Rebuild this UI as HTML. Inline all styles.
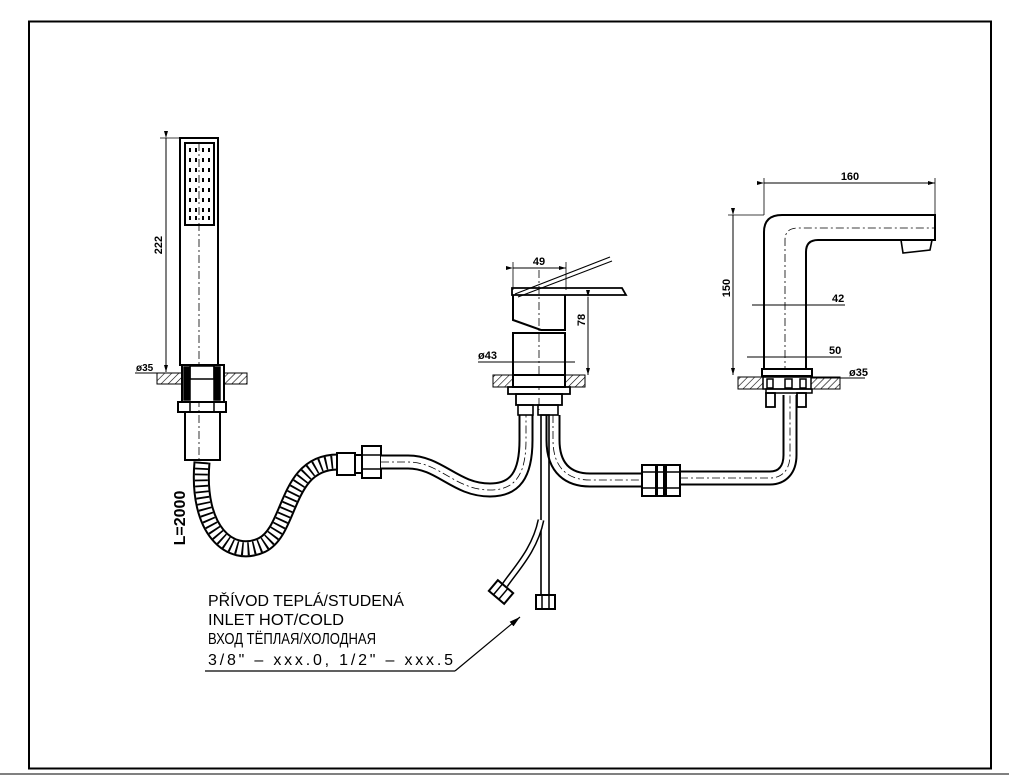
<!DOCTYPE html>
<html><head><meta charset="utf-8"><style>
html,body{margin:0;padding:0;background:#fff;}
svg{display:block;}
text{font-family:"Liberation Sans","DejaVu Sans",sans-serif;fill:#000;}
</style></head><body>
<svg width="1009" height="775" viewBox="0 0 1009 775" xmlns="http://www.w3.org/2000/svg">
<defs>
<pattern id="h" width="5" height="5" patternUnits="userSpaceOnUse" patternTransform="rotate(45)">
<line x1="0" y1="0" x2="0" y2="5" stroke="#000" stroke-width="1.2"/>
</pattern>
<marker id="ar" markerWidth="8" markerHeight="6" refX="7" refY="3" orient="auto" markerUnits="userSpaceOnUse"><path d="M0,1 L7,3 L0,5 Z" fill="#000"/></marker>
<marker id="ar2" markerWidth="12" markerHeight="8" refX="11" refY="4" orient="auto" markerUnits="userSpaceOnUse"><path d="M0,1 L11,4 L0,7 Z" fill="#000"/></marker>
</defs>
<rect width="1009" height="775" fill="#fff"/>
<rect x="29" y="21.5" width="962" height="747" fill="none" stroke="#000" stroke-width="2"/>
<line x1="0" y1="774" x2="1009" y2="774" stroke="#000" stroke-width="1"/>

<g fill="none" stroke="#000" stroke-width="1.5">
<!-- hand shower -->
<rect x="180" y="138" width="38" height="227" stroke-width="2"/>
<rect x="185" y="143" width="29" height="82" stroke-width="2"/>
<line x1="199" y1="143" x2="199" y2="460" stroke-width="0.8" stroke-dasharray="8 3 2 3"/>
<line x1="166" y1="138" x2="166" y2="372" stroke-width="1" marker-start="url(#ar)" marker-end="url(#ar)"/>
<line x1="160" y1="138" x2="180" y2="138" stroke-width="0.8"/>
<line x1="135" y1="373" x2="180" y2="373" stroke-width="1"/>
<rect x="157" y="373" width="90" height="11" fill="url(#h)" stroke-width="1"/>
<rect x="182" y="365" width="42" height="37" fill="#fff" stroke-width="2"/>
<rect x="184" y="367" width="6" height="33" fill="#000"/>
<rect x="214" y="367" width="6" height="33" fill="#000"/>
<rect x="190" y="366" width="24" height="13"/>
<rect x="178" y="402" width="48" height="10" stroke-width="2"/>
<line x1="190" y1="402" x2="190" y2="412"/><line x1="214" y1="402" x2="214" y2="412"/>
<rect x="185" y="412" width="35" height="48" stroke-width="2"/>
<!-- hose -->
<path d="M202,462 C196,530 230,560 262,545 C292,530 285,462 338,462" stroke-width="17"/>
<path d="M202,462 C196,530 230,560 262,545 C292,530 285,462 338,462" stroke="#fff" stroke-width="13"/>
<path d="M202,462 C196,530 230,560 262,545 C292,530 285,462 338,462" stroke-width="13" stroke-dasharray="1.8 4"/>
<!-- connector -->
<rect x="337" y="453" width="18" height="22" fill="#fff" stroke-width="2"/>
<rect x="355" y="455" width="7" height="18" stroke-width="2"/>
<rect x="362" y="446" width="19" height="32" stroke-width="2"/>
<line x1="362" y1="455" x2="381" y2="455"/><line x1="362" y1="469" x2="381" y2="469"/>
<!-- pipe to mixer -->
<path d="M381,462 L408,462 C440,462 455,490 490,490 C515,490 526,475 526,440 L526,415" stroke-width="15"/>
<path d="M381,462 L408,462 C440,462 455,490 490,490 C515,490 526,475 526,440 L526,415" stroke="#fff" stroke-width="11"/>
<path d="M381,462 L408,462 C440,462 455,490 490,490 C515,490 526,475 526,440 L526,415" stroke-width="0.8" stroke-dasharray="8 3 2 3"/>
<!-- right pipe -->
<path d="M553,415 L553,440 C553,470 570,480 590,480 L642,480" stroke-width="15"/>
<path d="M553,415 L553,440 C553,470 570,480 590,480 L642,480" stroke="#fff" stroke-width="11"/>
<path d="M553,415 L553,440 C553,470 570,480 590,480 L642,480" stroke-width="0.8" stroke-dasharray="8 3 2 3"/>
<path d="M680,478 L770,478 C782,478 790,470 790,455 L790,395" stroke-width="15"/>
<path d="M680,478 L770,478 C782,478 790,470 790,455 L790,395" stroke="#fff" stroke-width="11"/>
<path d="M680,478 L770,478 C782,478 790,470 790,455 L790,395" stroke-width="0.8" stroke-dasharray="8 3 2 3"/>
<rect x="642" y="465" width="14" height="31" stroke-width="2"/>
<rect x="657" y="465" width="7" height="31" stroke-width="2"/>
<rect x="666" y="465" width="14" height="31" stroke-width="2"/>
<line x1="642" y1="472" x2="680" y2="472"/><line x1="642" y1="488" x2="680" y2="488"/>
<!-- cold straight pipe -->
<rect x="541" y="415" width="8" height="180" stroke-width="1.6"/>
<rect x="536" y="595" width="19" height="14" stroke-width="2"/>
<line x1="542" y1="595" x2="542" y2="609"/><line x1="549" y1="595" x2="549" y2="609"/>
<!-- hot diagonal -->
<path d="M541,520 C535,550 515,570 505,585" stroke-width="7"/>
<path d="M541,520 C535,550 515,570 505,585" stroke="#fff" stroke-width="4"/>
<g transform="translate(501,592) rotate(40)"><rect x="-10" y="-7" width="20" height="14" stroke-width="2"/><line x1="-4" y1="-7" x2="-4" y2="7"/><line x1="3" y1="-7" x2="3" y2="7"/></g>
<!-- mixer -->
<polygon points="512,288 622,288 626,295 512,295" fill="#fff" stroke-width="1.8"/>
<line x1="515" y1="294" x2="610" y2="257" stroke-width="1.2"/>
<line x1="518" y1="297" x2="612" y2="261" stroke-width="1"/>
<path d="M513,295 L513,320 L541,330 L565,330 L565,295" stroke-width="2"/>
<rect x="513" y="333" width="52" height="43" stroke-width="2"/>
<line x1="539" y1="270" x2="539" y2="410" stroke-width="0.8" stroke-dasharray="8 3 2 3"/>
<line x1="513" y1="268" x2="566" y2="268" stroke-width="1" marker-start="url(#ar)" marker-end="url(#ar)"/>
<line x1="513" y1="262" x2="513" y2="290" stroke-width="0.8"/><line x1="566" y1="262" x2="566" y2="290" stroke-width="0.8"/>
<line x1="588" y1="297" x2="588" y2="375" stroke-width="1" marker-start="url(#ar)" marker-end="url(#ar)"/>
<line x1="478" y1="362" x2="575" y2="362" stroke-width="1"/>
<rect x="493" y="375" width="92" height="12" fill="url(#h)" stroke-width="1"/>
<rect x="513" y="375" width="52" height="12" fill="#fff" stroke-width="2"/>
<rect x="508" y="387" width="62" height="7" stroke-width="1.8"/>
<rect x="516" y="394" width="46" height="11" stroke-width="1.8"/>
<rect x="518" y="405" width="15" height="10" stroke-width="1.6"/>
<rect x="538" y="405" width="20" height="10" stroke-width="1.6"/>
<!-- tap -->
<path d="M764,374 L764,232 Q764,215 782,215 L935,215 L935,240 L818,240 Q806,240 806,252 L806,374" stroke-width="2"/>
<path d="M785,374 L785,240 Q785,228 798,228 L935,228" stroke-width="0.8" stroke-dasharray="8 3 2 3"/>
<polygon points="901,240 932,240 930,250 903,253" stroke-width="1.6"/>
<line x1="764" y1="183" x2="935" y2="183" stroke-width="1" marker-start="url(#ar)" marker-end="url(#ar)"/>
<line x1="764" y1="178" x2="764" y2="215" stroke-width="0.8"/><line x1="935" y1="178" x2="935" y2="215" stroke-width="0.8"/>
<line x1="733" y1="215" x2="733" y2="375" stroke-width="1" marker-start="url(#ar)" marker-end="url(#ar)"/>
<line x1="728" y1="215" x2="764" y2="215" stroke-width="0.8"/>
<line x1="752" y1="305" x2="845" y2="305" stroke-width="1"/>
<line x1="747" y1="357" x2="842" y2="357" stroke-width="1"/>
<line x1="810" y1="378" x2="865" y2="378" stroke-width="1"/>
<rect x="738" y="377" width="102" height="12" fill="url(#h)" stroke-width="1"/>
<rect x="762" y="369" width="50" height="7" fill="#fff" stroke-width="2"/>
<rect x="763" y="377" width="48" height="12" fill="#fff" stroke-width="1.5"/>
<rect x="767" y="379" width="6" height="9"/><rect x="785" y="379" width="7" height="9"/><rect x="800" y="379" width="6" height="9"/>
<rect x="766" y="389" width="46" height="4" stroke-width="1.5"/>
<rect x="766" y="393" width="9" height="14" stroke-width="1.8"/>
<rect x="797" y="393" width="9" height="14" stroke-width="1.8"/>
<!-- leader -->
<line x1="205" y1="671" x2="455" y2="671" stroke-width="1.2"/>
<line x1="455" y1="671" x2="520" y2="617" stroke-width="1.2" marker-end="url(#ar2)"/>
</g>
<!-- shower dots -->
<g fill="#000">
<rect x="189" y="148" width="2" height="4"/><rect x="195" y="148" width="2" height="4"/><rect x="202" y="148" width="2" height="4"/><rect x="208" y="148" width="2" height="4"/>
<rect x="189" y="158" width="2" height="4"/><rect x="195" y="158" width="2" height="4"/><rect x="202" y="158" width="2" height="4"/><rect x="208" y="158" width="2" height="4"/>
<rect x="189" y="168" width="2" height="4"/><rect x="195" y="168" width="2" height="4"/><rect x="202" y="168" width="2" height="4"/><rect x="208" y="168" width="2" height="4"/>
<rect x="189" y="178" width="2" height="4"/><rect x="195" y="178" width="2" height="4"/><rect x="202" y="178" width="2" height="4"/><rect x="208" y="178" width="2" height="4"/>
<rect x="189" y="188" width="2" height="4"/><rect x="195" y="188" width="2" height="4"/><rect x="202" y="188" width="2" height="4"/><rect x="208" y="188" width="2" height="4"/>
<rect x="189" y="198" width="2" height="4"/><rect x="195" y="198" width="2" height="4"/><rect x="202" y="198" width="2" height="4"/><rect x="208" y="198" width="2" height="4"/>
<rect x="189" y="208" width="2" height="4"/><rect x="195" y="208" width="2" height="4"/><rect x="202" y="208" width="2" height="4"/><rect x="208" y="208" width="2" height="4"/>
<rect x="189" y="216" width="2" height="4"/><rect x="195" y="216" width="2" height="4"/><rect x="202" y="216" width="2" height="4"/><rect x="208" y="216" width="2" height="4"/>
</g>
<!-- labels -->
<text x="162" y="245" font-size="11" font-weight="bold" transform="rotate(-90 162 245)" text-anchor="middle">222</text>
<text x="136" y="371" font-size="10" font-weight="bold">ø35</text>
<text x="185" y="518" font-size="16" font-weight="bold" transform="rotate(-90 185 518)" text-anchor="middle">L=2000</text>
<text x="539" y="265" font-size="11" font-weight="bold" text-anchor="middle">49</text>
<text x="585" y="320" font-size="11" font-weight="bold" transform="rotate(-90 585 320)" text-anchor="middle">78</text>
<text x="478" y="359" font-size="11" font-weight="bold">ø43</text>
<text x="850" y="180" font-size="11" font-weight="bold" text-anchor="middle">160</text>
<text x="730" y="288" font-size="11" font-weight="bold" transform="rotate(-90 730 288)" text-anchor="middle">150</text>
<text x="832" y="302" font-size="11" font-weight="bold">42</text>
<text x="829" y="354" font-size="11" font-weight="bold">50</text>
<text x="849" y="376" font-size="11" font-weight="bold">ø35</text>
<g font-size="16">
<text x="208" y="606" textLength="196" lengthAdjust="spacingAndGlyphs">PŘÍVOD TEPLÁ/STUDENÁ</text>
<text x="208" y="625" textLength="136" lengthAdjust="spacingAndGlyphs">INLET HOT/COLD</text>
<text x="208" y="644" textLength="168" lengthAdjust="spacingAndGlyphs">ВХОД ТЁПЛАЯ/ХОЛОДНАЯ</text>
<text x="208" y="665" textLength="245" lengthAdjust="spacing">3/8"  –  xxx.0,  1/2"  –  xxx.5</text>
</g>
</svg>
</body></html>
